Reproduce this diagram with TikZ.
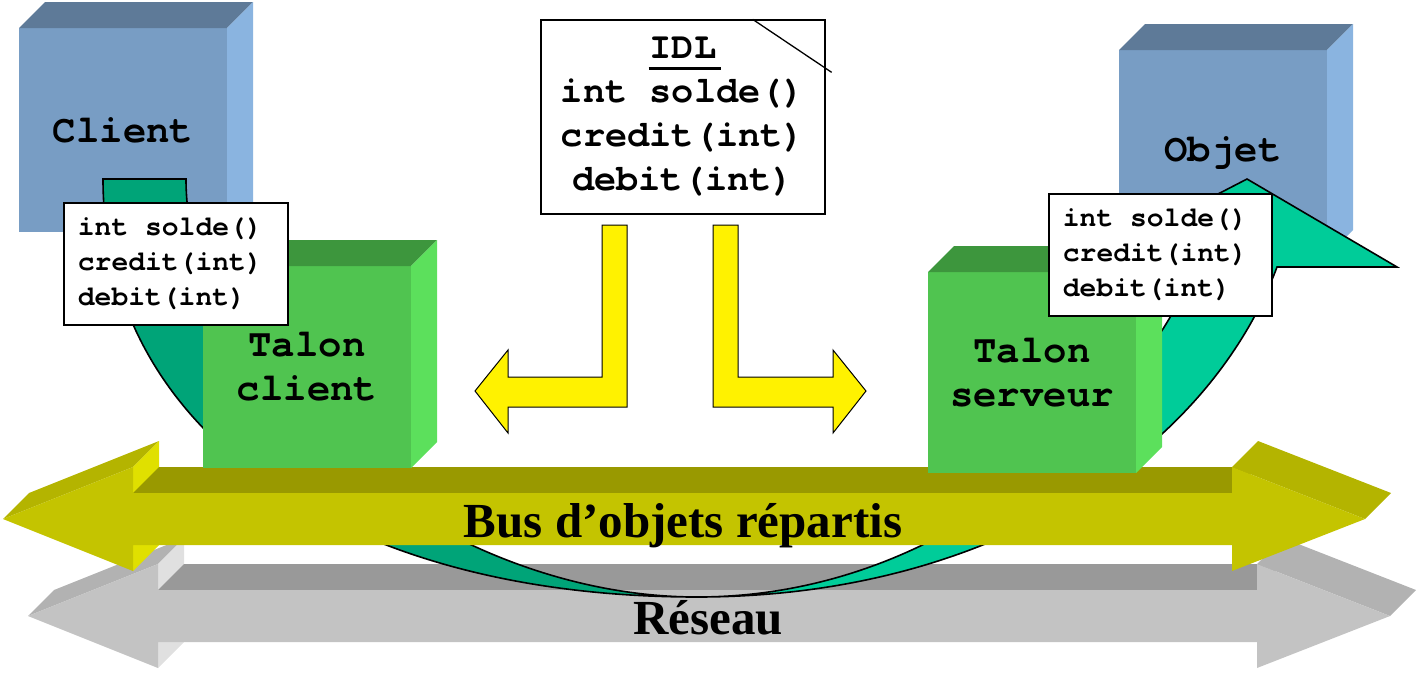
\documentclass[tikz,border=0pt]{standalone}
\usepackage{fontspec}
\newfontfamily\courfont{TeX Gyre Cursor}
\newfontfamily\timesfont{Liberation Serif}
\usetikzlibrary{calc}

\definecolor{bluefront}{RGB}{120,157,196}
\definecolor{bluetop}{RGB}{94,122,152}
\definecolor{blueside}{RGB}{138,180,224}
\definecolor{greenfront}{RGB}{80,196,80}
\definecolor{greentop}{RGB}{61,150,61}
\definecolor{greenside}{RGB}{92,224,92}
\definecolor{tealdark}{RGB}{0,164,120}
\definecolor{teallight}{RGB}{0,204,153}
\definecolor{busfront}{RGB}{196,196,0}
\definecolor{bustop}{RGB}{153,153,0}
\definecolor{bushead}{RGB}{180,180,0}
\definecolor{busback}{RGB}{224,224,0}
\definecolor{netfront}{RGB}{195,195,195}
\definecolor{nettop}{RGB}{153,153,153}
\definecolor{nethead}{RGB}{178,178,178}
\definecolor{netback}{RGB}{224,224,224}

\begin{document}
\begin{tikzpicture}[x=1pt, y=-1pt,
  cubelabel/.style={font=\courfont\bfseries\fontsize{39}{44}\selectfont, align=center},
  stubbox/.style={draw, fill=white, line width=1.8pt, anchor=north west, inner xsep=14pt, minimum height=122pt, align=left, font=\courfont\bfseries\fontsize{28}{35}\selectfont},
  buslabel/.style={font=\timesfont\bfseries\fontsize{49}{55}\selectfont, anchor=base},
  idlarrow/.style={fill=yellow, draw=black, line width=1pt},
  teal ribbon/.style={draw=black, line width=1.6pt, line join=miter},
  pics/busarrow/.style n args={4}{code={
    \fill[#3] (3,519) -- (29,493) -- (159,441) -- (133,467) -- cycle;
    \fill[#4] (133,467) -- (159,441) -- (159,545) -- (133,571) -- cycle;
    \fill[#2] (133,493) -- (159,467) -- (1258,467) -- (1232,493) -- cycle;
    \fill[#3] (1232,467) -- (1258,441) -- (1391,493) -- (1365,519) -- cycle;
    \fill[#1] (3,519) -- (133,467) -- (133,493) -- (1232,493) -- (1232,467) -- (1365,519) -- (1232,571) -- (1232,545) -- (133,545) -- (133,571) -- cycle;
  }}]
\useasboundingbox (0,0) rectangle (1418,672);
\pgfmathsetmacro{\cubeDepth}{26}
\pgfmathsetmacro{\cubeWidth}{208}

% Draw client and object cubes
\foreach \x/\y/\h/\name/\txt in {19/28/204/client/Client, 1119/50/206/objet/Objet}{
  \fill[bluefront] (\x,\y) rectangle ++(\cubeWidth,\h);
  \fill[bluetop] (\x,\y) -- ++(\cubeDepth,-\cubeDepth) -- ++(\cubeWidth,0) -- ++(-\cubeDepth,\cubeDepth) -- cycle;
  \fill[blueside] (\x+\cubeWidth,\y) -- ++(\cubeDepth,-\cubeDepth) -- ++(0,\h) -- ++(-\cubeDepth,\cubeDepth) -- cycle;
  \node[cubelabel] (\name) at (\x+\cubeWidth/2,\y+\h/2) {\txt};
}

% Draw network arrow
\pic at (25,97) {busarrow={netfront}{nettop}{nethead}{netback}};
\node[buslabel] (reseau) at (708,634) {Réseau};

% Draw curved arrow
\filldraw[teal ribbon, fill=tealdark] (103,179) -- (186,179) .. controls (186,388) and (442,597) .. (697,597) .. controls (341,597) and (103,430) .. (103,179) -- cycle;
\filldraw[teal ribbon, fill=teallight] (697,597) .. controls (947,597) and (1130,417) .. (1196,267) -- (1077,267) -- (1247,179) -- (1397,267) -- (1277,267) .. controls (1210,447) and (997,597) .. (697,597) -- cycle;

% Draw object bus
\pic at (0,0) {busarrow={busfront}{bustop}{bushead}{busback}};
\node[buslabel] (bus) at (683,537) {Bus d’objets répartis};

% Draw stub cubes
\foreach \x/\y/\h/\name/\txt in {203/266/202/talonclient/Talon\\client, 928/272/201/talonserveur/Talon\\serveur}{
  \fill[greenfront] (\x,\y) rectangle ++(\cubeWidth,\h);
  \fill[greentop] (\x,\y) -- ++(\cubeDepth,-\cubeDepth) -- ++(\cubeWidth,0) -- ++(-\cubeDepth,\cubeDepth) -- cycle;
  \fill[greenside] (\x+\cubeWidth,\y) -- ++(\cubeDepth,-\cubeDepth) -- ++(0,\h) -- ++(-\cubeDepth,\cubeDepth) -- cycle;
  \node[cubelabel] (\name) at (\x+\cubeWidth/2,\y+\h/2) {\txt};
}

% Draw interfaces
\node[stubbox, text width=196pt] (stubclient) at (63,202) {int\hspace*{0.6em}solde()\\credit(int)\\debit(int)};
\node[stubbox, text width=195pt] (stubserveur) at (1048,193) {int\hspace*{0.6em}solde()\\credit(int)\\debit(int)};

% Draw IDL note
\node[draw, fill=white, line width=1.3pt, minimum width=284pt, minimum height=194pt, align=center, font=\courfont\bfseries\fontsize{37}{44}\selectfont] (idl) at (683,117) {\rlap{\kern-1pt\rule[-11.5pt]{1.95em}{3pt}}IDL\\int\hspace*{0.6em}solde()\\credit(int)\\debit(int)};
\draw[line width=1.3pt] ($(idl.north east)+(-73,0)$) -- ($(idl.north east)+(6,53)$);

% Draw IDL arrows
\filldraw[idlarrow] (602,225) -- (627,225) -- (627,407) -- (508,407) -- (508,433) -- (475,391) -- (508,350) -- (508,377) -- (602,377) -- cycle;
\filldraw[idlarrow] (713,225) -- (738,225) -- (738,377) -- (833,377) -- (833,350) -- (866,391) -- (833,433) -- (833,407) -- (713,407) -- cycle;
\end{tikzpicture}
\end{document}
